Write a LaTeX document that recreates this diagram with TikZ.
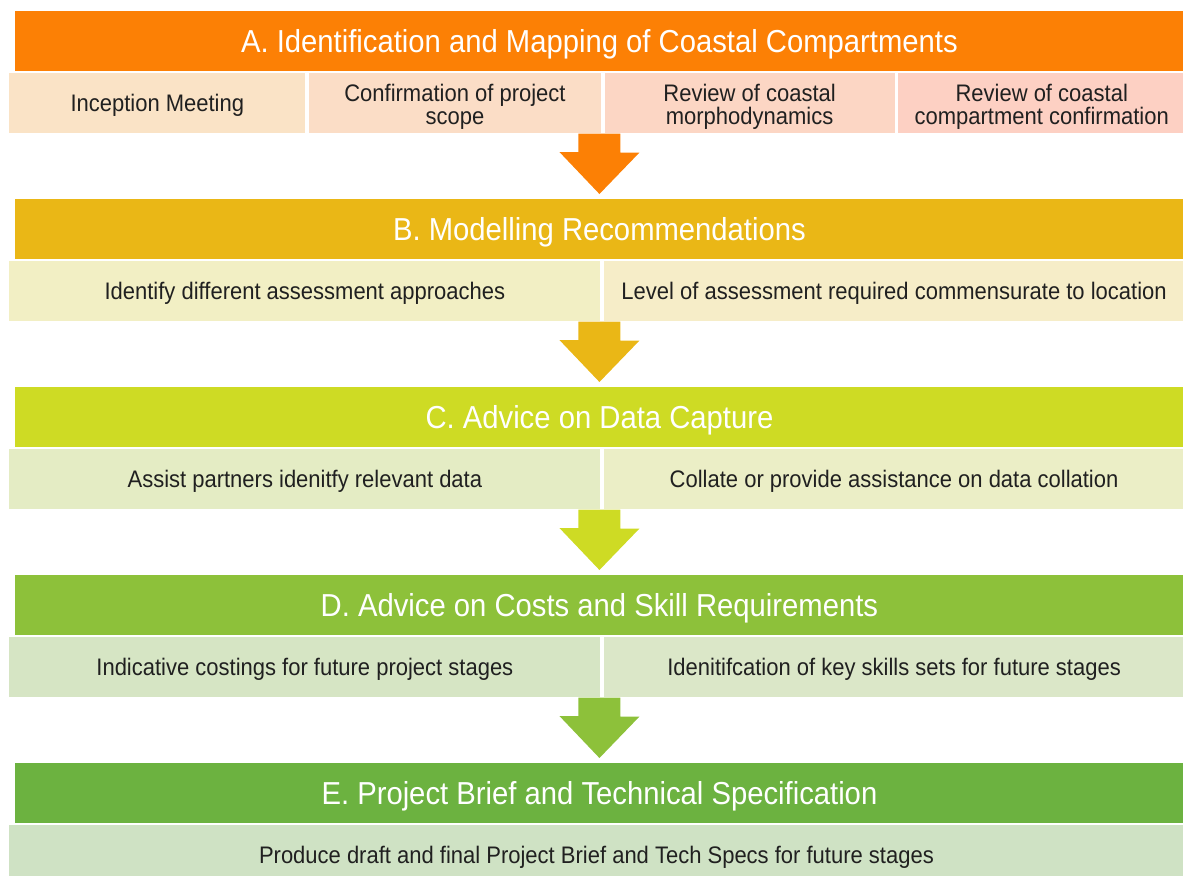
\documentclass[tikz,border=0pt]{standalone}
\usepackage{fontspec}
\setmainfont{Liberation Sans}[FakeStretch=0.92]
\usetikzlibrary{positioning,calc}

\definecolor{stageA}{RGB}{252,128,5}
\definecolor{stageB}{RGB}{234,183,22}
\definecolor{stageC}{RGB}{206,219,36}
\definecolor{stageD}{RGB}{141,193,58}
\definecolor{stageE}{RGB}{108,178,64}
\definecolor{taskA1}{RGB}{250,227,198}
\definecolor{taskA2}{RGB}{251,221,198}
\definecolor{taskA3}{RGB}{252,214,196}
\definecolor{taskA4}{RGB}{253,208,195}
\definecolor{taskB1}{RGB}{242,239,196}
\definecolor{taskB2}{RGB}{246,237,200}
\definecolor{taskC1}{RGB}{228,236,196}
\definecolor{taskC2}{RGB}{235,238,198}
\definecolor{taskD1}{RGB}{214,229,196}
\definecolor{taskD2}{RGB}{219,231,200}
\definecolor{taskE1}{RGB}{207,226,196}
\definecolor{tasktext}{RGB}{32,32,32}

\begin{document}
\begin{tikzpicture}[
                x=0.025cm, y=-0.025cm,
                node distance=0.075cm,
                stagebox/.style={
                    rectangle,
                    anchor=north west,
                    minimum width=29.2cm,
                    minimum height=1.5cm,
                    inner sep=0pt,
                    text height=20.3pt,
                    text=white,
                    font=\fontsize{22.6pt}{24pt}\selectfont
                },
                taskbox/.style={
                    rectangle,
                    minimum height=1.5cm,
                    inner sep=0pt,
                    text height=15.8pt,
                    align=center,
                    text=tasktext,
                    font=\fontsize{17pt}{16.4pt}\selectfont
                },
                twolines/.style={
                    taskbox,
                    text height=33.8pt
                },
                firsttask/.style={
                    taskbox,
                    anchor=north west
                }
            ]

                \useasboundingbox (0,0) rectangle (1183,875);

                % stage A
                \node[stagebox, fill=stageA] (hA) at (15,11) {A. Identification and Mapping of Coastal Compartments};
                \node[firsttask, fill=taskA1, minimum width=7.4cm] (sA1) at (9,73) {Inception Meeting};
                \node[twolines, fill=taskA2, minimum width=7.3cm, right=of sA1] (sA2) {Confirmation of project\\scope};
                \node[twolines, fill=taskA3, minimum width=7.25cm, right=of sA2] (sA3) {Review of coastal\\morphodynamics};
                \node[twolines, fill=taskA4, minimum width=7.175cm, right=of sA3] (sA4) {Review of coastal\\compartment confirmation};

                % stage B
                \node[stagebox, fill=stageB] (hB) at (15,199) {B. Modelling Recommendations};
                \node[firsttask, fill=taskB1, minimum width=14.775cm] (sB1) at (9,261) {Identify different assessment approaches};
                \node[taskbox, fill=taskB2, minimum width=14.5cm, right=of sB1] (sB2) {Level of assessment required commensurate to location};

                % stage C
                \node[stagebox, fill=stageC] (hC) at (15,387) {C. Advice on Data Capture};
                \node[firsttask, fill=taskC1, minimum width=14.775cm] (sC1) at (9,449) {Assist partners idenitfy relevant data};
                \node[taskbox, fill=taskC2, minimum width=14.5cm, right=of sC1] (sC2) {Collate or provide assistance on data collation};

                % stage D
                \node[stagebox, fill=stageD] (hD) at (15,575) {D. Advice on Costs and Skill Requirements};
                \node[firsttask, fill=taskD1, minimum width=14.775cm] (sD1) at (9,637) {Indicative costings for future project stages};
                \node[taskbox, fill=taskD2, minimum width=14.5cm, right=of sD1] (sD2) {Idenitifcation of key skills sets for future stages};

                % stage E
                \node[stagebox, fill=stageE] (hE) at (15,763) {E. Project Brief and Technical Specification};
                \node[firsttask, fill=taskE1, minimum width=29.35cm] (sE1) at (9,825) {Produce draft and final Project Brief and Tech Specs for future stages};

                % block arrows between the stages
                \fill[stageA] ($(hB.north)+(0,-5)$) -- ++(-40,-42) -- ++(19,0) -- ($(hA.south |- sA1.south)+(-21,0)$) -- ++(42,0) -- ++(0,19) -- ++(19,0) -- cycle;
                \fill[stageB] ($(hC.north)+(0,-5)$) -- ++(-40,-42) -- ++(19,0) -- ($(hB.south |- sB1.south)+(-21,0)$) -- ++(42,0) -- ++(0,19) -- ++(19,0) -- cycle;
                \fill[stageC] ($(hD.north)+(0,-5)$) -- ++(-40,-42) -- ++(19,0) -- ($(hC.south |- sC1.south)+(-21,0)$) -- ++(42,0) -- ++(0,19) -- ++(19,0) -- cycle;
                \fill[stageD] ($(hE.north)+(0,-5)$) -- ++(-40,-42) -- ++(19,0) -- ($(hD.south |- sD1.south)+(-21,0)$) -- ++(42,0) -- ++(0,19) -- ++(19,0) -- cycle;
        \end{tikzpicture}
\end{document}
